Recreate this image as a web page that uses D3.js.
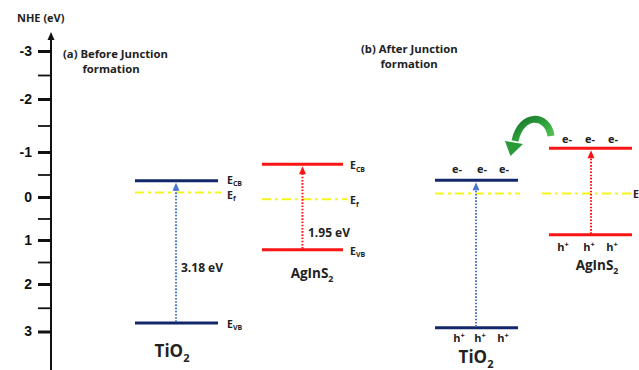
<!DOCTYPE html>
<html>
<head>
<meta charset="utf-8">
<script src="https://cdn.jsdelivr.net/npm/d3@7"></script>
<style>
  html, body { margin: 0; padding: 0; background: #fff; }
  svg { display: block; }
  .lab { font-family: "Open Sans", Lato, sans-serif; font-weight: 700; fill: #222; }
  .num { font-family: "Liberation Sans", Arial, sans-serif; font-weight: bold; fill: #111; }
</style>
</head>
<body>
<svg id="chart" width="639" height="370"></svg>
<script>
// Potential axis (eV vs NHE)
const yTicks = [-3, -2, -1, 0, 1, 2, 3];
const yMinorTicks = [-2.5, -1.5, -0.5, 0.5, 1.5, 2.5];

// Band edges before junction formation
const materials = ["TiO2", "AgInS2"];
const beforeCB = [-0.36, -0.73];
const beforeVB = [2.82, 1.22];
const beforeEf = [-0.10, 0.05];

// Band edges after junction formation (Fermi levels aligned)
const afterCB = [-0.37, -1.07];
const afterVB = [2.92, 0.88];
const afterEf = [-0.08, -0.08];

const svg = d3.select("#chart");
const W = 639, H = 370;

// Hand-spaced ticks of the energy axis, mapped piecewise
const y = d3.scaleLinear()
  .domain(yTicks)
  .range([51, 99, 152, 197, 240, 284, 331.5]);

const axisX = 51;
const navy = "#13286a", red = "#fb1414", yellow = "#f5f51c";
const blueDot = "#4a78d0";

// ---- energy axis ----
const axisG = svg.append("g").attr("transform", `translate(${axisX},0)`);
axisG.call(d3.axisLeft(y).tickValues(yTicks).tickSize(13).tickFormat(d => String(d)).tickPadding(6));
axisG.select(".domain").remove();
axisG.selectAll(".tick line").attr("stroke", "#111").attr("stroke-width", 3);
axisG.selectAll(".tick text").attr("class", "num").attr("font-size", 14).attr("fill", "#111");

const minorG = svg.append("g").attr("transform", `translate(${axisX},0)`);
minorG.call(d3.axisLeft(y).tickValues(yMinorTicks).tickSize(13).tickFormat(""));
minorG.select(".domain").remove();
minorG.selectAll(".tick line").attr("stroke", "#111").attr("stroke-width", 1.8);

svg.append("line").attr("x1", axisX).attr("x2", axisX).attr("y1", 38).attr("y2", H)
  .attr("stroke", "#111").attr("stroke-width", 2);
svg.append("path").attr("d", `M${axisX},32 L${axisX - 3.5},40 L${axisX + 3.5},40 Z`).attr("fill", "#111");

svg.append("text").attr("class", "lab").attr("x", 17).attr("y", 22).attr("font-size", 11)
  .text("NHE (eV)");

// ---- panel titles ----
function title(x, yy, lines, cx) {
  svg.append("text").attr("class", "lab").attr("x", x).attr("y", yy).attr("font-size", 11.3).text(lines[0]);
  svg.append("text").attr("class", "lab").attr("x", cx).attr("y", yy + 15).attr("font-size", 11.3)
    .attr("text-anchor", "middle").text(lines[1]);
}
title(63, 58, ["(a) Before Junction", "formation"], 111);
title(361, 53, ["(b) After Junction", "formation"], 409);

// ---- helpers ----
function level(x1, x2, v, color, w) {
  svg.append("line").attr("x1", x1).attr("x2", x2).attr("y1", y(v)).attr("y2", y(v))
    .attr("stroke", color).attr("stroke-width", w || 3);
}
function fermi(x1, x2, v) {
  svg.append("line").attr("x1", x1).attr("x2", x2).attr("y1", y(v)).attr("y2", y(v))
    .attr("stroke", yellow).attr("stroke-width", 2).attr("stroke-dasharray", "9,4,3,4");
}
function gapArrow(x, cb, vb, color) {
  const top = y(cb) + 2;
  svg.append("line").attr("x1", x).attr("x2", x).attr("y1", y(vb) - 1).attr("y2", top + 7)
    .attr("stroke", color).attr("stroke-width", 2).attr("stroke-dasharray", "1.6,1.6");
  svg.append("path").attr("d", `M${x},${top} L${x - 3.5},${top + 8} L${x + 3.5},${top + 8} Z`).attr("fill", color);
}
function eLabel(x, v, sub, dy) {
  const t = svg.append("text").attr("class", "lab").attr("x", x).attr("y", y(v) + dy).attr("font-size", 10.5);
  t.append("tspan").text("E");
  t.append("tspan").attr("font-size", 7).attr("dy", 2.5).text(sub);
}
function matLabel(x, yy, name, size) {
  const t = svg.append("text").attr("class", "lab").attr("x", x).attr("y", yy)
    .attr("font-size", size).attr("text-anchor", "middle").attr("fill", "#111");
  const base = name.replace(/2$/, "");
  t.append("tspan").text(base);
  t.append("tspan").attr("font-size", size * 0.65).attr("dy", size * 0.3).text("2");
}
function electrons(xs, yy) {
  xs.forEach(x => {
    svg.append("text").attr("class", "lab").attr("x", x).attr("y", yy)
      .attr("font-size", 11).attr("text-anchor", "middle").text("e-");
  });
}
function holes(xs, yy) {
  xs.forEach(x => {
    const t = svg.append("text").attr("class", "lab").attr("x", x).attr("y", yy)
      .attr("font-size", 11).attr("text-anchor", "middle");
    t.append("tspan").text("h");
    t.append("tspan").attr("font-size", 7.5).attr("dy", -3.5).text("+");
  });
}
const fmtGap = (cb, vb) => d3.format(".2f")(vb - cb) + " eV";

// ---- (a) before junction ----
// TiO2
fermi(135, 221, beforeEf[0]);
level(135, 218, beforeCB[0], navy);
level(135, 218, beforeVB[0], navy);
gapArrow(176, beforeCB[0], beforeVB[0], blueDot);
eLabel(227, beforeCB[0], "CB", 3);
eLabel(227, beforeEf[0], "f", 6);
eLabel(227, beforeVB[0], "VB", 5);
svg.append("text").attr("class", "lab").attr("x", 181).attr("y", 272).attr("font-size", 12).text(fmtGap(beforeCB[0], beforeVB[0]));
matLabel(172, 357, materials[0], 17);

// AgInS2
fermi(262, 347, beforeEf[1]);
level(262, 343, beforeCB[1], red);
level(262, 343, beforeVB[1], red);
gapArrow(302.5, beforeCB[1], beforeVB[1], red);
eLabel(350, beforeCB[1], "CB", 5);
eLabel(350, beforeEf[1], "f", 5);
eLabel(350, beforeVB[1], "VB", 5);
svg.append("text").attr("class", "lab").attr("x", 308).attr("y", 237).attr("font-size", 12).text(fmtGap(beforeCB[1], beforeVB[1]));
matLabel(312, 278, materials[1], 13.5);

// ---- (b) after junction ----
fermi(435, 520, afterEf[0]);
fermi(542, 632, afterEf[1]);
level(435, 518, afterCB[0], navy);
level(435, 518, afterVB[0], navy);
gapArrow(476, afterCB[0], afterVB[0], blueDot);
level(549, 632, afterCB[1], red);
level(549, 632, afterVB[1], red);
gapArrow(591, afterCB[1], afterVB[1], red);
eLabel(633, afterEf[1], "f", 5);

electrons([457, 482, 504], y(afterCB[0]) - 7);
holes([459, 480, 503], y(afterVB[0]) + 14);
electrons([567, 590, 613], y(afterCB[1]) - 5);
holes([563, 589, 612], y(afterVB[1]) + 16);
matLabel(597, 270, materials[1], 13.5);
matLabel(476, 363, materials[0], 17);

// ---- electron transfer arrow ----
const grad = svg.append("defs").append("linearGradient").attr("id", "g1")
  .attr("x1", "0").attr("y1", "0").attr("x2", "1").attr("y2", "1");
grad.append("stop").attr("offset", "0").attr("stop-color", "#17722a");
grad.append("stop").attr("offset", "0.5").attr("stop-color", "#2fa33c");
grad.append("stop").attr("offset", "1").attr("stop-color", "#5cc65a");
svg.append("path")
  .attr("d", "M551,136 C548,114 521,112 515,141")
  .attr("fill", "none").attr("stroke", "url(#g1)").attr("stroke-width", 7);
svg.append("path")
  .attr("d", "M505,141 L510.5,156 L523,144 Z")
  .attr("fill", "#2a9a38");
</script>
</body>
</html>
